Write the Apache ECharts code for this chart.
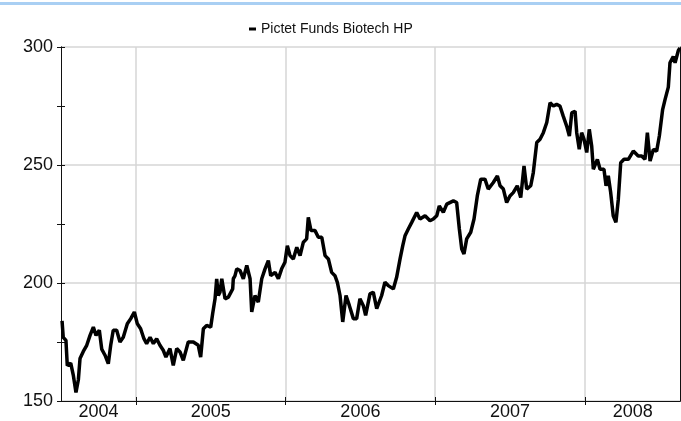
<!DOCTYPE html>
<html>
<head>
<meta charset="utf-8">
<script src="https://cdn.jsdelivr.net/npm/echarts@6/dist/echarts.min.js"></script>
<style>
  html, body { margin: 0; padding: 0; background: #fff; }
  #chart { width: 681px; height: 421px; }
</style>
</head>
<body>
<div id="chart"></div>
<script>
var seriesName = 'Pictet Funds Biotech HP'

// time as decimal year
var years = [
  2004.507, 2004.515, 2004.533, 2004.542, 2004.565, 2004.582, 2004.600, 2004.616, 2004.627, 2004.649,
  2004.672, 2004.694, 2004.716, 2004.734, 2004.756, 2004.772, 2004.794, 2004.816, 2004.832, 2004.849,
  2004.872, 2004.894, 2004.916, 2004.943, 2004.966, 2004.990, 2005.010, 2005.032, 2005.054, 2005.072,
  2005.095, 2005.117, 2005.139, 2005.161, 2005.183, 2005.201, 2005.228, 2005.250, 2005.273, 2005.295,
  2005.317, 2005.350, 2005.384, 2005.417, 2005.433, 2005.451, 2005.473, 2005.500, 2005.513, 2005.529,
  2005.540, 2005.551, 2005.562, 2005.574, 2005.596, 2005.618, 2005.629, 2005.647, 2005.651, 2005.662,
  2005.674, 2005.696, 2005.718, 2005.741, 2005.763, 2005.774, 2005.796, 2005.818, 2005.841, 2005.863,
  2005.885, 2005.901, 2005.930, 2005.952, 2005.974, 2005.996, 2006.012, 2006.030, 2006.052, 2006.075,
  2006.097, 2006.119, 2006.141, 2006.152, 2006.170, 2006.197, 2006.219, 2006.242, 2006.264, 2006.286,
  2006.308, 2006.330, 2006.346, 2006.364, 2006.382, 2006.404, 2006.426, 2006.453, 2006.475, 2006.497,
  2006.519, 2006.535, 2006.564, 2006.586, 2006.609, 2006.642, 2006.664, 2006.686, 2006.720, 2006.742,
  2006.765, 2006.783, 2006.798, 2006.820, 2006.843, 2006.876, 2006.898, 2006.932, 2006.965, 2006.987,
  2007.010, 2007.027, 2007.054, 2007.077, 2007.121, 2007.143, 2007.161, 2007.177, 2007.192, 2007.210,
  2007.237, 2007.259, 2007.281, 2007.304, 2007.332, 2007.354, 2007.388, 2007.415, 2007.433, 2007.455,
  2007.477, 2007.499, 2007.521, 2007.548, 2007.571, 2007.593, 2007.611, 2007.638, 2007.655, 2007.678,
  2007.700, 2007.722, 2007.745, 2007.767, 2007.789, 2007.811, 2007.833, 2007.855, 2007.878, 2007.896,
  2007.912, 2007.934, 2007.945, 2007.962, 2007.978, 2007.994, 2008.012, 2008.029, 2008.045, 2008.056,
  2008.083, 2008.101, 2008.127, 2008.141, 2008.156, 2008.172, 2008.189, 2008.207, 2008.223, 2008.239,
  2008.261, 2008.290, 2008.323, 2008.356, 2008.379, 2008.401, 2008.417, 2008.435, 2008.457, 2008.479,
  2008.497, 2008.519, 2008.535, 2008.557, 2008.568, 2008.590, 2008.602, 2008.624, 2008.635
]

var prices = [
  184, 177, 175.7, 165, 166, 161, 153.6, 159, 168, 171,
  173.6, 177.8, 181.3, 177.8, 180, 172, 169.4, 165.8, 173.6, 180,
  180, 175, 177, 182.7, 184.9, 187.7, 182.7, 180.6, 176.4, 174.3,
  177, 174.3, 176.4, 173.6, 171.5, 168.6, 172.2, 165.1, 172.2, 170.8,
  167.2, 175, 175, 173.6, 168.6, 180.6, 182, 181.3, 187, 193.3,
  201.7, 194.7, 196.1, 201.8, 193.3, 194, 194.7, 197.5, 201.8, 203,
  206, 205.3, 201.8, 207.4, 201.8, 187.7, 194.7, 191.9, 201.8, 206,
  209.5, 203.1, 204.5, 201.8, 206, 208.8, 215.8, 211.6, 210.2, 215.1,
  211.6, 217.3, 218.7, 227.8, 222.2, 222.2, 219.4, 219.4, 211.6, 210.2,
  204.5, 203.1, 200.3, 194.7, 183.5, 194.7, 190.5, 184.9, 184.9, 193.3,
  190.5, 186.3, 195.4, 196.1, 189.1, 194.7, 200.3, 198.9, 197.5, 202.4,
  210.2, 215.8, 220, 222.9, 225.7, 229.9, 227.1, 228.5, 226.4, 227.1,
  228.5, 232.7, 229.9, 233.4, 234.8, 234.1, 222.9, 214.4, 212.3, 218.7,
  221.5, 227.1, 236.9, 244, 244, 239.8, 242.6, 245.4, 241.2, 239.8,
  234.1, 236.9, 238.3, 241.2, 236.2, 249.6, 239.8, 241.2, 246.8, 259.5,
  260.9, 263.7, 268, 276.4, 275, 275.7, 275, 270.7, 266.5, 262.3,
  272.1, 272.8, 263.7, 256.7, 263.7, 260.9, 255.3, 265.1, 258.1, 248.2,
  252.4, 248.2, 248.2, 241.2, 245.4, 238.3, 228.5, 225.7, 235.5, 251,
  252.4, 252.4, 255.9, 253.8, 253.8, 252.4, 263.7, 251.7, 256.6, 255.9,
  262.3, 273.5, 277.7, 283, 293.3, 296, 293.3, 298.5, 299.6
]

var yearTicks = [2005, 2006, 2007, 2008]
var yearLabelPos = [2004.75, 2005.5, 2006.5, 2007.5, 2008.32]
var yearLabels = ['2004', '2005', '2006', '2007', '2008']

var chart = echarts.init(document.getElementById('chart'))

var fontFamily = 'Liberation Sans, Arial, sans-serif'

var xBase = {
  type: 'value',
  position: 'bottom',
  min: 2004.5,
  max: 2008.635,
  axisLine: { show: true, lineStyle: { color: '#111', width: 1 } }
}

var yBase = {
  type: 'value',
  min: 150,
  max: 300,
  interval: 50,
  position: 'left'
}

var option = {
  animation: false,
  textStyle: { fontFamily: fontFamily, color: '#111' },
  graphic: [{
    type: 'rect',
    shape: { x: 0, y: 2, width: 681, height: 3 },
    style: { fill: '#a9cff3' },
    silent: true
  }],
  legend: {
    data: [seriesName],
    left: 244,
    top: 17,
    icon: 'rect',
    itemWidth: 7,
    itemHeight: 3,
    itemGap: 6,
    textStyle: { fontSize: 14, color: '#111', fontFamily: fontFamily }
  },
  grid: {
    left: 61,
    right: 1,
    top: 47,
    bottom: 19,
    containLabel: false
  },
  xAxis: [
    Object.assign({}, xBase, {
      axisTick: { show: true, length: 4, customValues: yearTicks, lineStyle: { color: '#111' } },
      axisLabel: {
        customValues: yearLabelPos,
        margin: 2,
        fontSize: 18,
        color: '#111',
        formatter: function (v) {
          return yearLabels[yearLabelPos.indexOf(v)] || ''
        }
      },
      splitLine: { show: true, lineStyle: { color: '#d6d6d6', width: 1.5 } }
    }),
    Object.assign({}, xBase, {
      axisTick: { show: true, inside: true, length: 4, customValues: yearTicks, lineStyle: { color: '#111' } },
      axisLabel: { show: false },
      splitLine: { show: false }
    })
  ],
  yAxis: [
    Object.assign({}, yBase, {
      axisLine: { show: true, lineStyle: { color: '#111', width: 1 } },
      axisTick: { show: true, length: 4, lineStyle: { color: '#111' } },
      minorTick: { show: true, splitNumber: 2, length: 4, lineStyle: { color: '#111' } },
      axisLabel: { margin: 8, fontSize: 18, color: '#111' },
      splitLine: { show: true, lineStyle: { color: '#d6d6d6', width: 1.5 } }
    }),
    Object.assign({}, yBase, {
      axisLine: { show: true, lineStyle: { color: '#111', width: 1 } },
      axisTick: { show: true, inside: true, length: 4, lineStyle: { color: '#111' } },
      minorTick: { show: true, splitNumber: 2, length: 4, lineStyle: { color: '#111' } },
      axisLabel: { show: false },
      splitLine: { show: false }
    }),
    Object.assign({}, yBase, {
      position: 'right',
      axisLine: { show: true, lineStyle: { color: '#111', width: 1 } },
      axisTick: { show: false },
      axisLabel: { show: false },
      splitLine: { show: false }
    })
  ],
  series: [{
    name: seriesName,
    type: 'line',
    xAxisIndex: 0,
    yAxisIndex: 0,
    data: years.map(function (y, i) { return [y, prices[i]] }),
    showSymbol: false,
    symbol: 'none',
    lineStyle: { color: '#000', width: 3.5 },
    itemStyle: { color: '#000' },
    z: 5
  }]
}

chart.setOption(option)
</script>
</body>
</html>
